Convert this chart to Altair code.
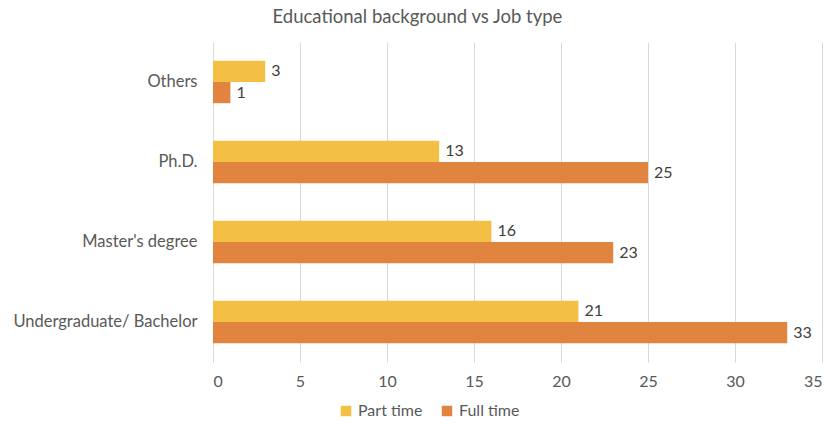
import altair as alt
import pandas as pd

categories = ["Others", "Ph.D.", "Master's degree", "Undergraduate/ Bachelor"]
series = ["Part time", "Full time"]
part_time = [3, 13, 16, 21]
full_time = [1, 25, 23, 33]
colors = ["#F4BF45", "#E1843F"]

rows = []
for c, p, f in zip(categories, part_time, full_time):
    rows.append({"cat": c, "type": "Part time", "value": p})
    rows.append({"cat": c, "type": "Full time", "value": f})
df = pd.DataFrame(rows)

FONT = "Lato"

y = alt.Y("cat:N", sort=categories, title=None,
          scale=alt.Scale(paddingInner=0.47, paddingOuter=0.235),
          axis=alt.Axis(labelFontSize=16.5, labelColor="#595959", labelFont=FONT,
                        ticks=False, domainColor="#D9D9D9", labelPadding=16,
                        labelLimit=300))
x = alt.X("value:Q", title=None,
          scale=alt.Scale(domain=[0, 35]),
          axis=alt.Axis(values=list(range(0, 36, 5)), labelFontSize=16,
                        labelColor="#595959", labelFont=FONT, ticks=False,
                        domain=False, gridColor="#D9D9D9", labelPadding=11))
yoff = alt.YOffset("type:N", sort=series)

bars = alt.Chart(df).mark_bar().encode(
    x=x, y=y, yOffset=yoff,
    color=alt.Color("type:N", sort=series,
                    scale=alt.Scale(domain=series, range=colors),
                    legend=alt.Legend(title=None, orient="none", direction="horizontal",
                                      legendX=125, legendY=361, symbolType="square",
                                      symbolSize=110, labelFontSize=16, labelFont=FONT,
                                      labelColor="#595959", columnPadding=16,
                                      symbolOpacity=1)),
)
labels = alt.Chart(df).mark_text(align="left", dx=6, fontSize=16, font=FONT,
                                 color="#404040").encode(
    x="value:Q", y=alt.Y("cat:N", sort=categories), yOffset=yoff, text="value:Q")

chart = (bars + labels).properties(
    width=609, height=320,
    title=alt.Title("Educational background vs Job type", fontSize=18.5,
                    font=FONT, fontWeight="normal", color="#595959",
                    anchor="middle", frame="bounds", offset=16),
    autosize="none",
    padding={"left": 213, "top": 42, "right": 11, "bottom": 65},
).configure_view(stroke=None).configure_bar(opacity=1)

chart.save("out.html", embed_options={"renderer": "svg", "actions": False})
